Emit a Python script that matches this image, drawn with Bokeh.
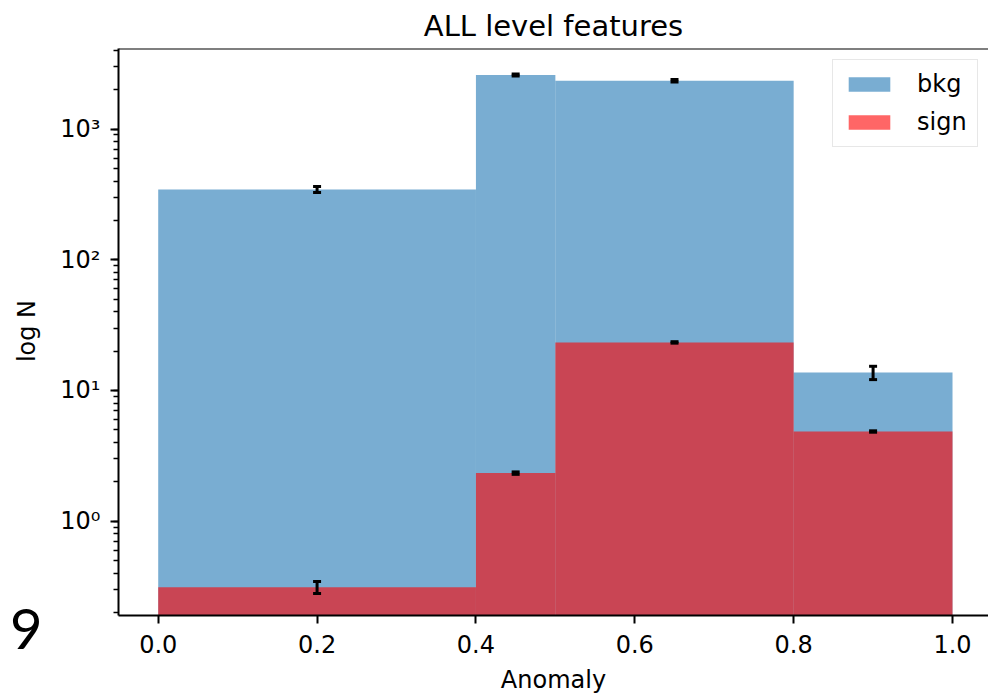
from bokeh.plotting import figure
from bokeh.layouts import row
from bokeh.models import (ColumnDataSource, Range1d, FixedTicker, PrintfTickFormatter,
                          CustomJSTickFormatter, Legend, LegendItem, Span, Div)
from bokeh.embed import file_html
from bokeh.resources import INLINE

# ---- data ----
bin_edges = [0.0, 0.4, 0.5, 0.8, 1.0]
bin_centers = [0.2, 0.45, 0.65, 0.9]
bkg_counts = [345, 2590, 2340, 13.7]
bkg_errors = [18, 51, 48, 1.6]
sign_counts = [0.312, 2.33, 23.3, 4.85]
sign_errors = [0.033, 0.05, 0.3, 0.06]
x_ticks = [0.0, 0.2, 0.4, 0.6, 0.8, 1.0]
series_names = ["bkg", "sign"]
title_text = "ALL level features"
x_label = "Anomaly"
y_label = "log N"
stray_text = "9"

FONT = "DejaVu Sans"
floor = 1e-3
W, H = 988, 697
LEFT_W = 45

# ---- narrow strip on the left holding the y label and the stray "9" ----
side_html = (
    f'<div style="position:relative;width:{LEFT_W}px;height:{H}px;overflow:visible;">'
    f'<div style="position:absolute;left:-73px;top:319px;width:200px;height:24px;'
    f'line-height:24px;text-align:center;font-family:\'{FONT}\';font-size:24px;'
    f'color:black;transform:rotate(-90deg);transform-origin:50% 50%;white-space:nowrap;">'
    f'{y_label}</div>'
    f'<div style="position:absolute;left:10px;top:600px;height:56px;line-height:56px;'
    f'font-family:Lato;font-size:56px;color:black;white-space:nowrap;">{stray_text}</div>'
    f'</div>'
)
side = Div(text=side_html, width=LEFT_W, height=H, margin=0)

# ---- main histogram ----
p = figure(width=W - LEFT_W, height=H, y_axis_type="log",
           x_range=Range1d(-0.05, 1.0453), y_range=Range1d(0.1897, 4130),
           output_backend="svg", toolbar_location=None,
           min_border_left=118 - LEFT_W, min_border_right=0, min_border_top=48,
           min_border_bottom=82, title=title_text)
p.background_fill_color = "white"
p.border_fill_color = "white"
p.outline_line_color = None
p.xgrid.visible = False
p.ygrid.visible = False

p.title.text_font = FONT
p.title.text_font_size = "29px"
p.title.text_font_style = "normal"
p.title.align = "center"
p.title.text_color = "black"
p.title.standoff = 12

def src(counts, errs):
    return ColumnDataSource(dict(
        left=bin_edges[:-1], right=bin_edges[1:],
        bottom=[floor] * len(counts), top=counts,
        x=bin_centers, lo=[c - e for c, e in zip(counts, errs)],
        hi=[c + e for c, e in zip(counts, errs)]))

bsrc = src(bkg_counts, bkg_errors)
ssrc = src(sign_counts, sign_errors)

r_bkg = p.quad(left="left", right="right", bottom="bottom", top="top", source=bsrc,
               fill_color="#1f77b4", fill_alpha=0.6, line_color=None)
r_sig = p.quad(left="left", right="right", bottom="bottom", top="top", source=ssrc,
               fill_color="red", fill_alpha=0.6, line_color=None)

for s in (bsrc, ssrc):
    p.segment(x0="x", x1="x", y0="lo", y1="hi", source=s, line_color="black", line_width=3)
    p.rect(x="x", y="lo", width=8, height=3, width_units="screen", height_units="screen",
           source=s, fill_color="black", line_color=None)
    p.rect(x="x", y="hi", width=8, height=3, width_units="screen", height_units="screen",
           source=s, fill_color="black", line_color=None)

# top spine
p.add_layout(Span(location=4130, dimension="width", line_color="black", line_width=2))

for ax in (p.xaxis[0], p.yaxis[0]):
    ax.axis_line_width = 2
    ax.axis_line_color = "black"
    ax.major_tick_line_width = 2
    ax.major_tick_out = 8
    ax.major_tick_in = 0
    ax.minor_tick_line_width = 1.5
    ax.minor_tick_out = 5
    ax.minor_tick_in = 0
    ax.major_label_text_font = FONT
    ax.major_label_text_font_size = "24px"
    ax.major_label_text_color = "black"
    ax.axis_label_text_font = FONT
    ax.axis_label_text_font_size = "24px"
    ax.axis_label_text_font_style = "normal"
    ax.axis_label_text_color = "black"

p.xaxis.ticker = FixedTicker(ticks=x_ticks)
p.xaxis.formatter = PrintfTickFormatter(format="%.1f")
p.xaxis.minor_tick_line_color = None
p.xaxis.axis_label = x_label
p.xaxis.major_label_standoff = 11
p.xaxis.axis_label_standoff = 10

p.yaxis.major_label_standoff = 10
p.yaxis.formatter = CustomJSTickFormatter(code="""
const sup = {'-':'\u207b','0':'\u2070','1':'\u00b9','2':'\u00b2','3':'\u00b3','4':'\u2074',
             '5':'\u2075','6':'\u2076','7':'\u2077','8':'\u2078','9':'\u2079'};
const e = Math.round(Math.log10(tick));
return '10' + String(e).split('').map(c => sup[c]).join('');
""")

legend = Legend(items=[LegendItem(label=series_names[0], renderers=[r_bkg]),
                       LegendItem(label=series_names[1], renderers=[r_sig])],
                location=(714, 468))
legend.label_text_font = FONT
legend.label_text_font_size = "24px"
legend.label_text_color = "black"
legend.glyph_width = 52
legend.glyph_height = 18
legend.label_standoff = 22
legend.padding = 10
legend.spacing = 10
legend.border_line_color = "#d0d0d0"
legend.border_line_width = 1.5
legend.background_fill_alpha = 0.8
p.add_layout(legend)

layout = row(side, p, spacing=0)
open("out.html", "w").write(file_html(layout, INLINE))
